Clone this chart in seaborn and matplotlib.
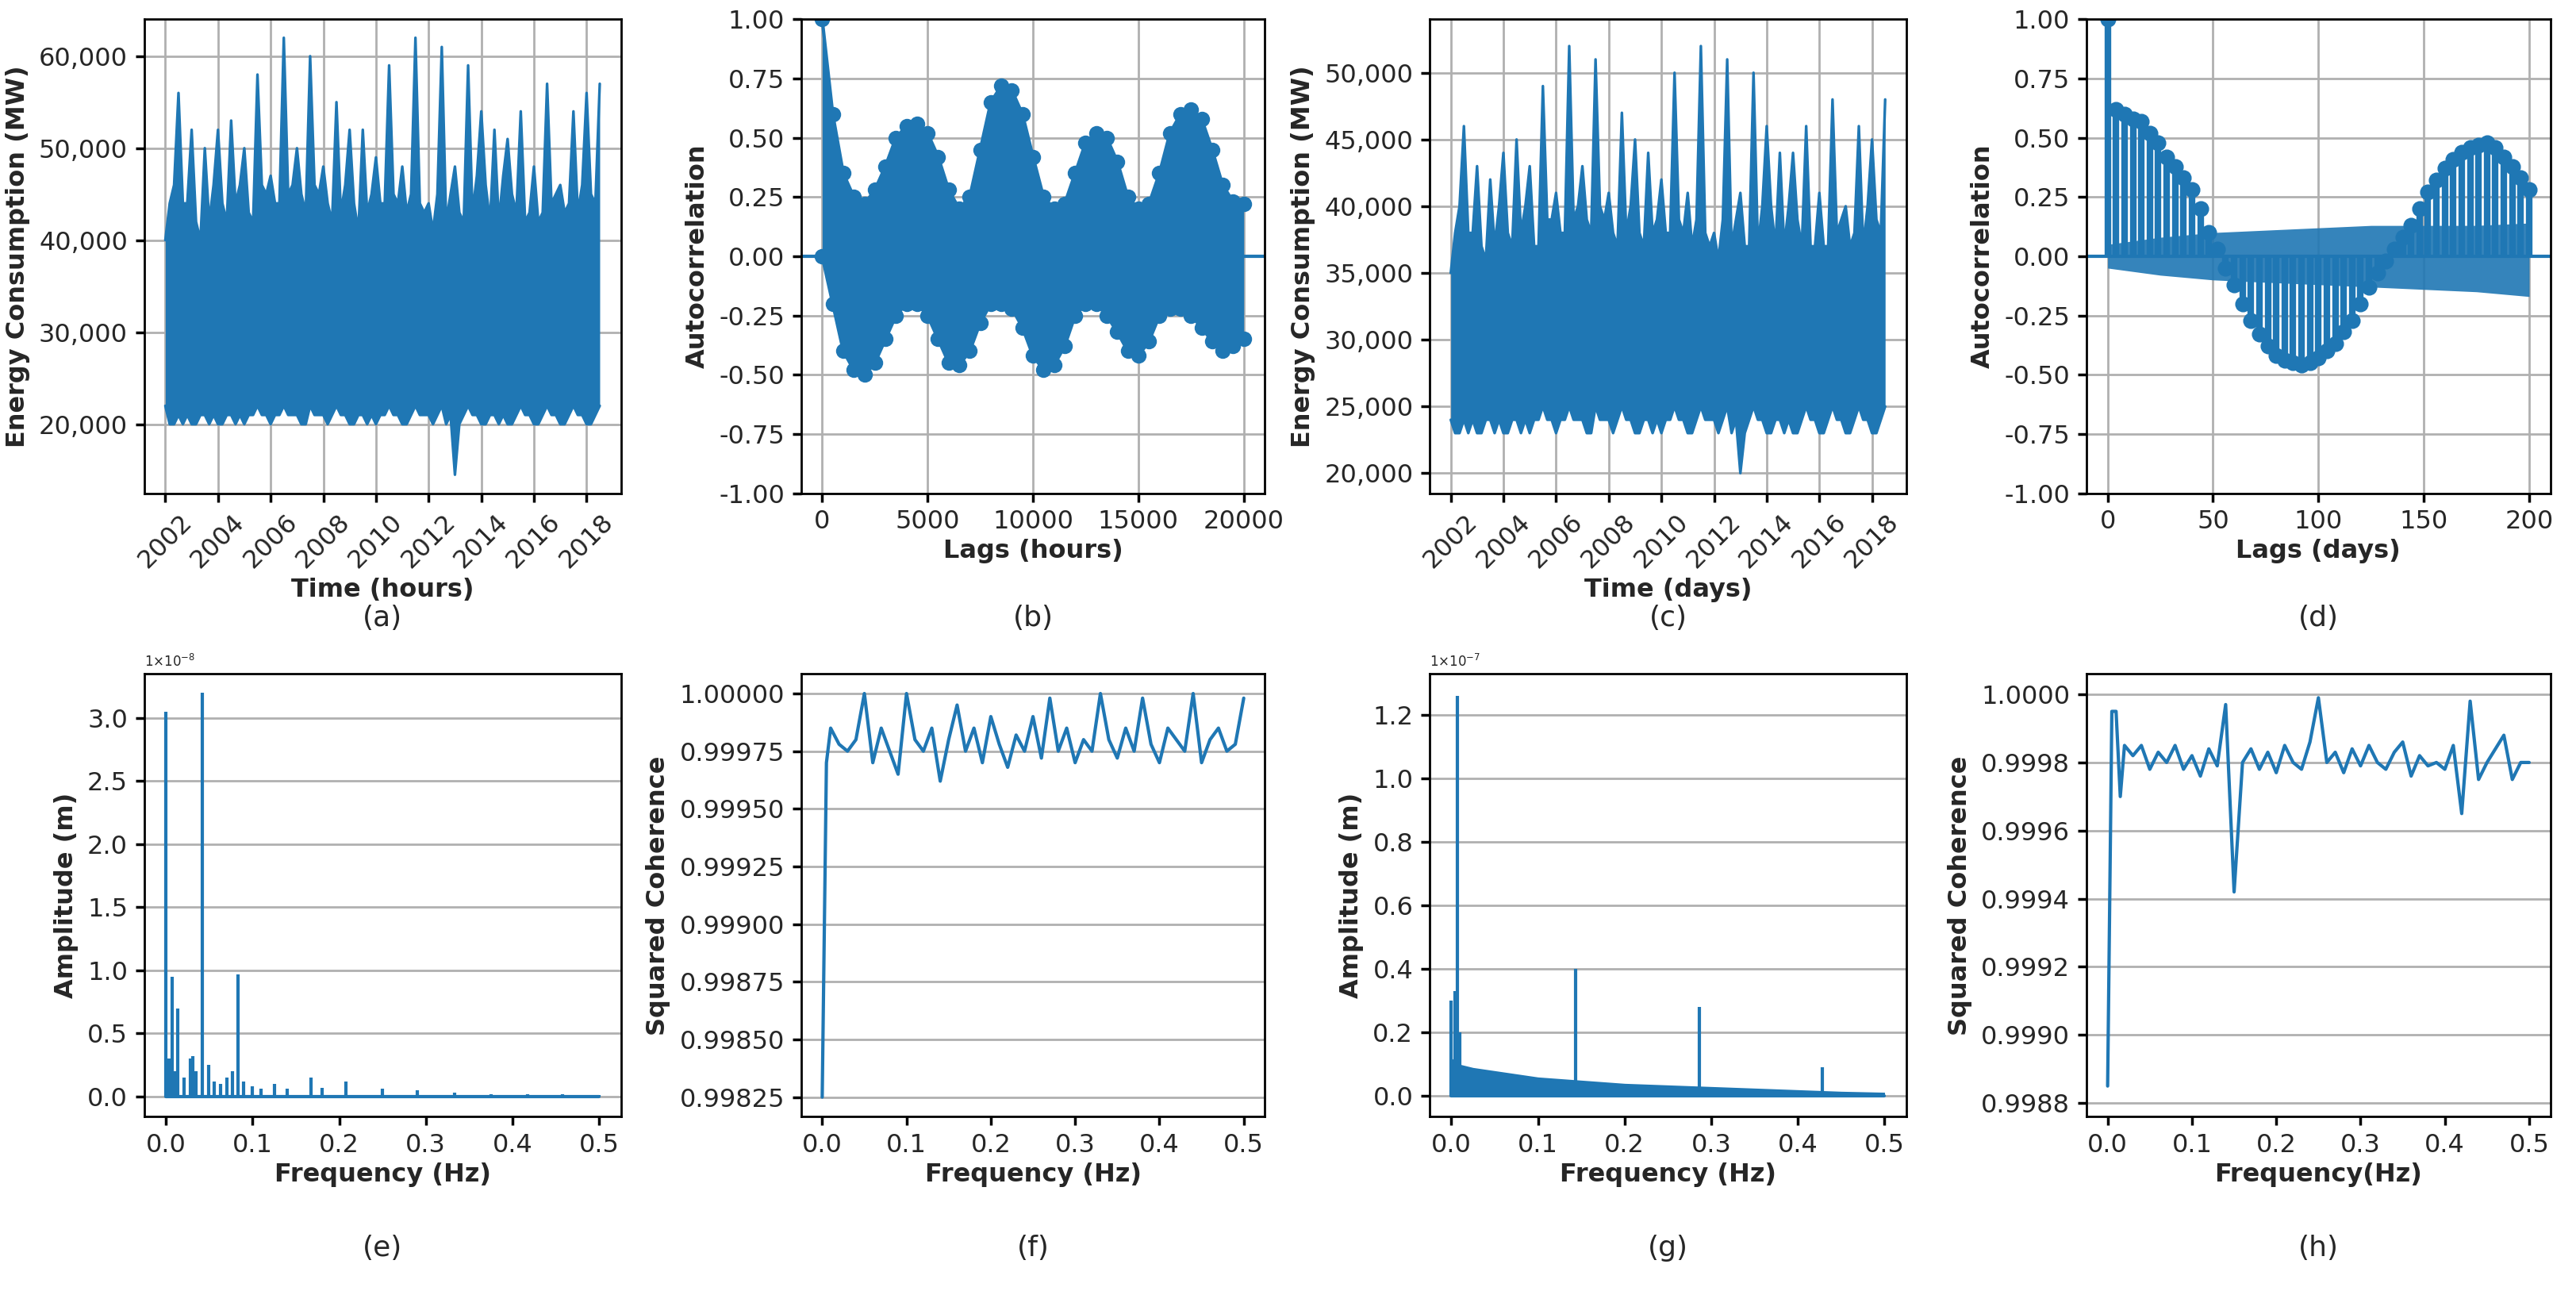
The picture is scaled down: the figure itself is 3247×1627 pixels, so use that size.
import numpy as np
import pandas as pd
import matplotlib
matplotlib.use("Agg")
import matplotlib.pyplot as plt
import matplotlib.ticker as mt
import seaborn as sns

# ---------------- data ----------------
years_ticks = [2002, 2004, 2006, 2008, 2010, 2012, 2014, 2016, 2018]
a_upper = [40,44,46,56,44,44, 52,42,40,50,42,46, 52,44,42,53,44,46, 50,43,42,58,46,45,
           47,44,44,62,45,46, 50,45,43,60,46,45, 48,44,42,55,43,46, 52,44,41,52,43,45,
           49,44,44,59,45,44, 48,43,45,62,44,43, 44,41,45,61,42,45, 48,43,42,59,43,47,
           54,46,42,52,42,47, 51,45,43,54,42,43, 48,42,43,57,44,45, 46,43,44,54,43,46,
           56,45,44,57]
a_lower = [22,20,20,21,20,21, 20,20,21,21,20,21, 20,20,21,21,20,21, 20,21,21,22,21,21,
           20,21,21,22,21,21, 21,20,20,22,21,21, 21,20,21,22,21,21, 20,20,21,21,20,21,
           20,21,21,22,21,21, 20,20,21,22,21,21, 21,20,21,22,20,21, 14.5,20,21,22,21,21,
           20,20,21,21,20,21, 20,20,21,22,21,21, 20,20,21,22,21,21, 20,20,21,22,21,21,
           20,20,21,22]
c_upper = [35,38,40,46,38,38, 43,37,36,42,37,40, 44,38,37,45,38,40, 43,37,37,49,39,39,
           41,38,38,52,39,40, 43,39,38,51,40,39, 41,38,37,47,38,40, 45,38,37,44,38,39,
           42,38,38,50,39,38, 41,37,39,52,38,37, 38,36,39,51,37,39, 41,37,37,50,37,40,
           46,40,37,44,37,40, 44,39,37,46,37,37, 41,37,37,48,38,39, 40,37,38,46,37,40,
           45,39,38,48]
c_lower = [24,23,23,24,23,24, 23,23,24,24,23,24, 23,23,24,24,23,24, 23,24,24,25,24,24,
           23,24,24,25,24,24, 24,23,23,25,24,24, 24,23,24,25,24,24, 23,23,24,24,23,24,
           23,24,24,25,24,24, 23,23,24,25,24,24, 24,23,24,25,23,24, 20,23,24,25,24,24,
           23,23,24,24,23,24, 23,23,24,25,24,24, 23,23,24,25,24,24, 23,23,24,25,24,24,
           23,23,24,25]

b_lags = list(range(0, 20001, 500))
b_upper = [1.0,0.6,0.35,0.25,0.22,0.28,0.38,0.5,0.55,0.56,0.52,0.42,0.28,0.2,0.25,0.45,0.65,0.72,0.7,0.6,
           0.42,0.25,0.2,0.22,0.35,0.48,0.52,0.5,0.4,0.25,0.2,0.22,0.35,0.52,0.6,0.62,0.58,0.45,0.3,0.23,0.22]
b_lower = [0.0,-0.2,-0.4,-0.48,-0.5,-0.45,-0.35,-0.25,-0.2,-0.2,-0.25,-0.35,-0.45,-0.46,-0.4,-0.28,-0.2,-0.2,-0.22,-0.3,
           -0.42,-0.48,-0.46,-0.38,-0.25,-0.2,-0.2,-0.25,-0.32,-0.4,-0.42,-0.36,-0.25,-0.22,-0.22,-0.25,-0.3,-0.36,-0.4,-0.38,-0.35]

d_lags = list(range(0, 201, 4))
d_acf = [1.0,0.62,0.6,0.58,0.57,0.52,0.48,0.42,0.38,0.33,0.28,0.2,0.1,0.03,-0.05,-0.12,-0.2,-0.27,-0.33,-0.38,
         -0.42,-0.44,-0.45,-0.46,-0.45,-0.43,-0.4,-0.37,-0.32,-0.27,-0.2,-0.13,-0.07,-0.02,0.03,0.08,0.13,0.2,0.27,0.32,
         0.37,0.41,0.44,0.46,0.47,0.48,0.46,0.42,0.38,0.33,0.28]
d_band_lags = [0, 25, 50, 75, 100, 125, 150, 175, 200]
d_band_up = [0.05, 0.08, 0.1, 0.11, 0.12, 0.13, 0.13, 0.13, 0.14]
d_band_lo = [-0.05, -0.08, -0.1, -0.11, -0.12, -0.13, -0.14, -0.15, -0.17]

e_freq = [0.0,0.0035,0.007,0.0105,0.014,0.021,0.028,0.031,0.035,0.042,0.049,0.056,0.063,0.07,0.077,0.083,
          0.09,0.1,0.11,0.125,0.14,0.167,0.18,0.208,0.25,0.29,0.333,0.375,0.417,0.458,0.5]
e_amp_1e8 = [3.05,0.3,0.95,0.2,0.7,0.15,0.3,0.32,0.2,3.2,0.25,0.12,0.1,0.15,0.2,0.97,
             0.12,0.08,0.06,0.1,0.06,0.15,0.07,0.12,0.06,0.05,0.03,0.02,0.02,0.02,0.01]

f_freq = [0.0, 0.005] + [round(0.01 * i, 2) for i in range(1, 51)]
f_coh = [0.99825,0.99970,0.99985,0.99978,0.99975,0.99980,1.00000,0.99970,0.99985,0.99975,0.99965,1.00000,
         0.99980,0.99975,0.99985,0.99962,0.99980,0.99995,0.99975,0.99985,0.99970,0.99990,0.99978,0.99968,
         0.99982,0.99975,0.99990,0.99972,0.99998,0.99975,0.99985,0.99970,0.99980,0.99975,1.00000,0.99980,
         0.99972,0.99985,0.99975,0.99998,0.99978,0.99970,0.99985,0.99980,0.99975,1.00000,0.99970,0.99980,
         0.99985,0.99975,0.99978,0.99998]

g_freq = [0.0,0.004,0.007,0.01,0.143,0.286,0.428]
g_amp_1e7 = [0.3,0.33,1.26,0.2,0.4,0.28,0.09]
g_floor_freq = [0.0,0.01,0.025,0.05,0.075,0.1,0.125,0.15,0.175,0.2,0.25,0.3,0.35,0.4,0.45,0.5]
g_floor_1e7 = [0.12,0.1,0.09,0.08,0.07,0.06,0.055,0.05,0.045,0.04,0.035,0.03,0.025,0.02,0.015,0.012]

h_freq = [0.0,0.005,0.01,0.015,0.02] + [round(0.01 * i, 2) for i in range(3, 51)]
h_coh = [0.99885,0.99995,0.99995,0.99970,0.99985,0.99982,0.99985,0.99978,0.99983,0.99980,0.99985,0.99978,
         0.99982,0.99976,0.99984,0.99979,0.99997,0.99942,0.99980,0.99984,0.99978,0.99983,0.99977,0.99985,
         0.99980,0.99978,0.99986,0.99999,0.99980,0.99983,0.99977,0.99984,0.99979,0.99985,0.99980,0.99978,
         0.99983,0.99986,0.99976,0.99982,0.99979,0.99980,0.99978,0.99985,0.99965,0.99998,0.99975,0.99980,
         0.99984,0.99988,0.99975,0.99980,0.99980]

# ---------------- plotting ----------------
sns.set_theme(style="whitegrid", rc={"axes.edgecolor": "black", "grid.color": "#b0b0b0",
                                     "axes.linewidth": 1.0, "xtick.bottom": True, "ytick.left": True})
C = "#1f77b4"
FS = 11.5
plt.rcParams.update({"font.size": FS, "xtick.labelsize": FS, "ytick.labelsize": FS})

fig = plt.figure(figsize=(16.235, 8.135), dpi=200)
cols = [(0.056, 0.241), (0.311, 0.491), (0.555, 0.740), (0.810, 0.990)]
rows = [(0.618, 0.985), (0.135, 0.478)]
axes = []
for r in rows:
    for c in cols:
        axes.append(fig.add_axes([c[0], r[0], c[1] - c[0], r[1] - r[0]]))
letters = "abcdefgh"
for i, ax in enumerate(axes):
    ax.grid(True)
    if i >= 4:
        ax.xaxis.grid(False)
    for s in ax.spines.values():
        s.set_color("black")
    ax.tick_params(length=4, color="black")
    cx = (cols[i % 4][0] + cols[i % 4][1]) / 2
    fig.text(cx, 0.521 if i < 4 else 0.033, f"({letters[i]})", ha="center", va="center", fontsize=13)

def lab(ax, xl, yl):
    ax.set_xlabel(xl, fontweight="bold", fontsize=FS, labelpad=2)
    ax.set_ylabel(yl, fontweight="bold", fontsize=FS)

comma = mt.FuncFormatter(lambda v, p: f"{int(v):,}")

def series(ax, up, lo):
    t = 2002 + np.arange(len(up)) / 6.0
    up = np.array(up) * 1000
    lo = np.array(lo) * 1000
    ax.fill_between(t, lo, up, color=C, lw=0)
    sns.lineplot(x=t, y=up, ax=ax, color=C, lw=1.2)
    sns.lineplot(x=t, y=lo, ax=ax, color=C, lw=1.2)
    ax.set_xticks(years_ticks)
    ax.set_xticklabels([str(y) for y in years_ticks], rotation=45)
    ax.set_xlim(2001.2, 2019.3)
    ax.yaxis.set_major_formatter(comma)

# (a)
ax = axes[0]
series(ax, a_upper, a_lower)
ax.set_ylim(12500, 64000)
ax.set_yticks([20000, 30000, 40000, 50000, 60000])
lab(ax, "Time (hours)", "Energy Consumption (MW)")

# (b)
ax = axes[1]
ax.fill_between(b_lags, b_lower, b_upper, color=C, lw=0)
sns.lineplot(x=b_lags, y=b_upper, ax=ax, color=C, marker="o", markersize=7, markeredgewidth=0)
sns.lineplot(x=b_lags, y=b_lower, ax=ax, color=C, marker="o", markersize=7, markeredgewidth=0)
ax.axhline(0, color=C, lw=1.5)
ax.set_ylim(-1, 1)
ax.set_xlim(-1000, 21000)
ax.set_yticks(np.arange(-1, 1.01, 0.25))
ax.yaxis.set_major_formatter(mt.FormatStrFormatter("%.2f"))
lab(ax, "Lags (hours)", "Autocorrelation")

# (c)
ax = axes[2]
series(ax, c_upper, c_lower)
ax.set_ylim(18500, 54000)
ax.set_yticks([20000, 25000, 30000, 35000, 40000, 45000, 50000])
lab(ax, "Time (days)", "Energy Consumption (MW)")

# (d)
ax = axes[3]
ax.fill_between(d_band_lags, d_band_lo, d_band_up, color=C, alpha=0.9, lw=0)
ax.vlines(d_lags, 0, d_acf, color=C, lw=3)
sns.scatterplot(x=d_lags, y=d_acf, ax=ax, color=C, s=45, edgecolor=None)
ax.axhline(0, color=C, lw=1.5)
ax.set_ylim(-1, 1)
ax.set_xlim(-10, 210)
ax.set_yticks(np.arange(-1, 1.01, 0.25))
ax.yaxis.set_major_formatter(mt.FormatStrFormatter("%.2f"))
lab(ax, "Lags (days)", "Autocorrelation")

def spec(ax, fr, am, mult):
    ax.vlines(fr, 0, am, color=C, lw=1.5)
    sns.lineplot(x=[0, 0.5], y=[0, 0], ax=ax, color=C, lw=1.5)
    ax.set_xlim(-0.025, 0.525)
    ax.text(0.0, 1.01, "1×10$^{" + mult + "}$", transform=ax.transAxes, fontsize=6, va="bottom")

# (e)
ax = axes[4]
spec(ax, e_freq, e_amp_1e8, "-8")
ax.set_ylim(-0.16, 3.35)
ax.set_yticks([0, 0.5, 1.0, 1.5, 2.0, 2.5, 3.0])
ax.yaxis.set_major_formatter(mt.FormatStrFormatter("%.1f"))
lab(ax, "Frequency (Hz)", "Amplitude (m)")

# (f)
ax = axes[5]
sns.lineplot(x=f_freq, y=f_coh, ax=ax, color=C, lw=1.5)
ax.set_xlim(-0.025, 0.525)
ax.set_ylim(0.998165, 1.000085)
ax.set_yticks(np.arange(0.99825, 1.000001, 0.00025))
ax.yaxis.set_major_formatter(mt.FormatStrFormatter("%.5f"))
lab(ax, "Frequency (Hz)", "Squared Coherence")

# (g)
ax = axes[6]
ax.fill_between(g_floor_freq, 0, g_floor_1e7, color=C, lw=0)
spec(ax, g_freq, g_amp_1e7, "-7")
ax.set_ylim(-0.065, 1.33)
ax.set_yticks([0, 0.2, 0.4, 0.6, 0.8, 1.0, 1.2])
ax.yaxis.set_major_formatter(mt.FormatStrFormatter("%.1f"))
lab(ax, "Frequency (Hz)", "Amplitude (m)")

# (h)
ax = axes[7]
sns.lineplot(x=h_freq, y=h_coh, ax=ax, color=C, lw=1.5)
ax.set_xlim(-0.025, 0.525)
ax.set_ylim(0.99876, 1.00006)
ax.set_yticks(np.arange(0.9988, 1.000001, 0.0002))
ax.yaxis.set_major_formatter(mt.FormatStrFormatter("%.4f"))
lab(ax, "Frequency(Hz)", "Squared Coherence")

for ax in axes[4:]:
    ax.set_xticks([0, 0.1, 0.2, 0.3, 0.4, 0.5])
    ax.xaxis.set_major_formatter(mt.FormatStrFormatter("%.1f"))

fig.savefig("out.png", dpi=200)
